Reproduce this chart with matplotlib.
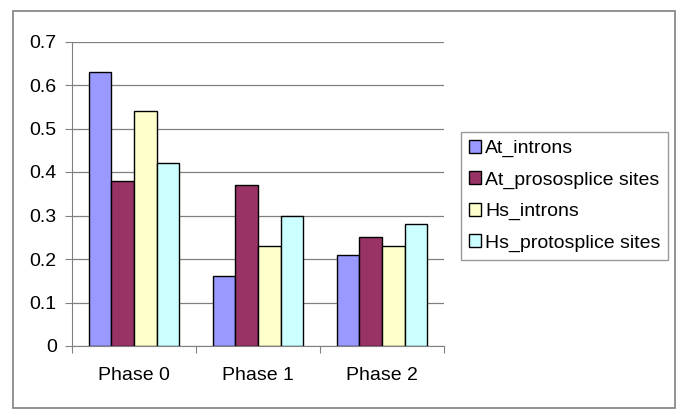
import matplotlib
matplotlib.use("Agg")
import matplotlib.pyplot as plt
from matplotlib.patches import Rectangle
import numpy as np

plt.rcParams['font.family'] = ['Liberation Sans', 'DejaVu Sans']

phases = ["Phase 0", "Phase 1", "Phase 2"]
series = ["At_introns", "At_prososplice sites", "Hs_introns", "Hs_protosplice sites"]
at_introns = [0.63, 0.16, 0.21]
at_proso = [0.38, 0.37, 0.25]
hs_introns = [0.54, 0.23, 0.23]
hs_proto = [0.42, 0.30, 0.28]
colors = ["#9999FF", "#993366", "#FFFFCC", "#CCFFFF"]

fig = plt.figure(figsize=(6.85, 4.2), dpi=100)
W, H = 685, 420
# plot area in pixels: left 72, right 444, top 41.5, bottom 346
ax = fig.add_axes([72 / W, 1 - 346 / H, (444 - 72) / W, (346 - 41.5) / H])

# outer chart border
fig.patches.append(Rectangle((13 / W, 1 - 408 / H), (675 - 13) / W, (408 - 11) / H,
                             transform=fig.transFigure, fill=False,
                             edgecolor="#808080", linewidth=1.2))

x = np.arange(len(phases))
w = 1 / 5.5
for k, vals in enumerate([at_introns, at_proso, hs_introns, hs_proto]):
    ax.bar(x - 2 * w + w * (k + 0.5), vals, width=w, color=colors[k],
           edgecolor="black", linewidth=1.0, label=series[k], zorder=3)

fs = 14
ax.set_xlim(-0.5, 2.5)
ax.set_ylim(0, 0.7)
ax.set_yticks(np.arange(0, 0.71, 0.1))
ax.set_yticklabels(["0", "0.1", "0.2", "0.3", "0.4", "0.5", "0.6", "0.7"])
ax.yaxis.grid(True, color="#808080", linewidth=0.9, zorder=0)
ax.set_xticks([-0.5, 0.5, 1.5, 2.5])
ax.set_xticklabels([])
ax.set_xticks(x, minor=True)
ax.set_xticklabels(phases, minor=True)
ax.tick_params(axis="x", which="minor", length=0, pad=15, labelsize=fs)
ax.tick_params(axis="x", which="major", length=5, color="#808080")
ax.tick_params(axis="y", length=5, color="#808080", labelsize=fs, pad=6)
for s in ["top", "right"]:
    ax.spines[s].set_visible(False)
for s in ["left", "bottom"]:
    ax.spines[s].set_color("#808080")

leg = fig.legend(loc="upper left", bbox_to_anchor=(461 / W, 1 - 132 / H),
                 frameon=True, fancybox=False, fontsize=fs,
                 handlelength=0.65, handleheight=0.65, handletextpad=0.2,
                 labelspacing=0.72, borderpad=0.4, borderaxespad=0)
leg.get_frame().set_edgecolor("#808080")
leg.get_frame().set_linewidth(1.0)

fig.savefig("out.png", dpi=100)
